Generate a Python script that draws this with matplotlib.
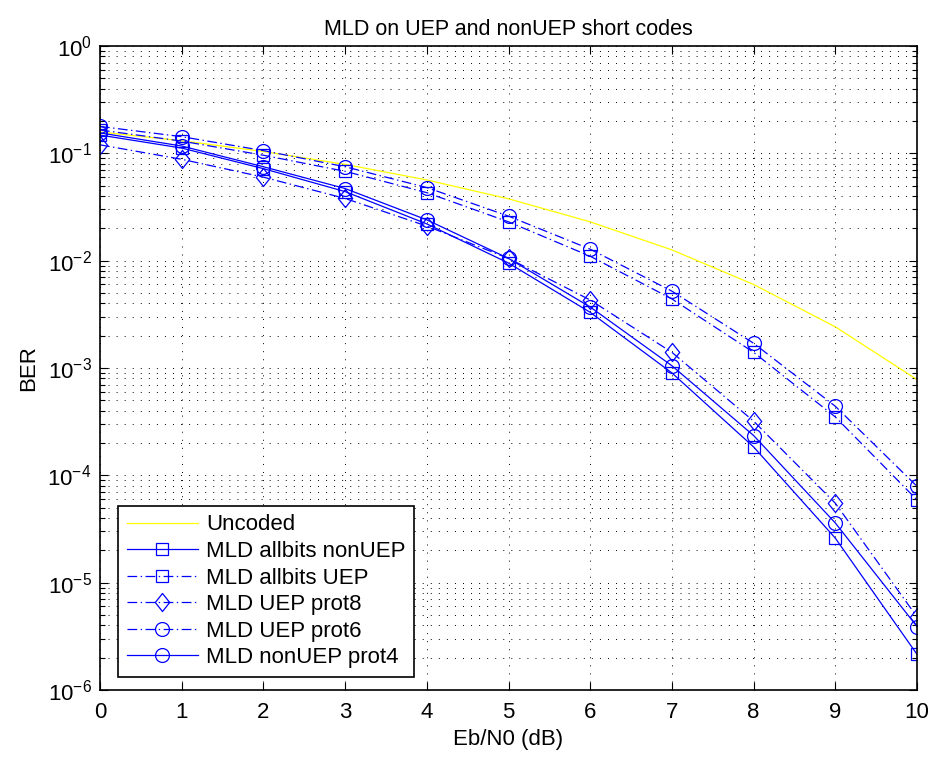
import numpy as np
import matplotlib
matplotlib.use('Agg')
import matplotlib.pyplot as plt
from matplotlib.path import Path
from matplotlib.ticker import LogLocator, FixedLocator, LogFormatterMathtext, NullFormatter

plt.rcParams['font.family'] = ['Liberation Sans', 'DejaVu Sans']
plt.rcParams['mathtext.fontset'] = 'custom'
plt.rcParams['mathtext.rm'] = 'Liberation Sans'
plt.rcParams['lines.scale_dashes'] = False

ebn0 = [0, 1, 2, 3, 4, 5, 6, 7, 8, 9, 10]

uncoded = [0.158, 0.131, 0.104, 0.0789, 0.0565, 0.0377, 0.0230, 0.0126, 0.0060, 0.00242, 0.00078]
allbits_nonuep = [0.148, 0.112, 0.072, 0.044, 0.022, 0.0095, 0.0033, 0.0009, 1.84e-4, 2.6e-5, 2.15e-6]
allbits_uep = [0.165, 0.13, 0.096, 0.068, 0.043, 0.023, 0.011, 0.0044, 0.0014, 3.5e-4, 5.9e-5]
uep_prot8 = [0.12, 0.088, 0.06, 0.038, 0.021, 0.0105, 0.0043, 0.0014, 3.2e-4, 5.5e-5, 4.8e-6]
uep_prot6 = [0.178, 0.143, 0.106, 0.075, 0.048, 0.026, 0.0128, 0.0052, 0.0017, 4.4e-4, 7.9e-5]
nonuep_prot4 = [0.155, 0.117, 0.075, 0.047, 0.024, 0.0105, 0.0037, 0.00105, 2.35e-4, 3.6e-5, 3.9e-6]

labels = ['Uncoded', 'MLD allbits nonUEP', 'MLD allbits UEP', 'MLD UEP prot8',
          'MLD UEP prot6', 'MLD nonUEP prot4']

fs = 16

fig = plt.figure(figsize=(9.33, 7.58), dpi=100)
ax = fig.add_axes([100 / 933, 68 / 758, 817 / 933, 644 / 758])

dashdot = (0, (7, 2.5, 1, 2.5))
blue = (0, 0, 1)
lw = 0.9
# matlab style diamond, a bit taller than wide
diamond = Path([(0, 1), (0.8, 0), (0, -1), (-0.8, 0), (0, 1)],
               [Path.MOVETO, Path.LINETO, Path.LINETO, Path.LINETO, Path.CLOSEPOLY])

mk = dict(mfc='none', mec=blue, mew=lw)
ax.semilogy(ebn0, uncoded, '-', color=(1, 1, 0), lw=lw, label=labels[0])
ax.semilogy(ebn0, allbits_nonuep, '-', color=blue, lw=lw, marker='s', ms=8.9, label=labels[1], **mk)
ax.semilogy(ebn0, allbits_uep, color=blue, ls=dashdot, lw=lw, marker='s', ms=8.9, label=labels[2], **mk)
ax.semilogy(ebn0, uep_prot8, color=blue, ls=dashdot, lw=lw, marker=diamond, ms=13, label=labels[3], **mk)
ax.semilogy(ebn0, uep_prot6, color=blue, ls=dashdot, lw=lw, marker='o', ms=10, label=labels[4], **mk)
ax.semilogy(ebn0, nonuep_prot4, '-', color=blue, lw=lw, marker='o', ms=10, label=labels[5], **mk)

ax.set_xlim(0, 10)
ax.set_ylim(1e-6, 1)
ax.xaxis.set_major_locator(FixedLocator(range(0, 11)))
ax.yaxis.set_major_locator(FixedLocator([10.0 ** k for k in range(-6, 1)]))
ax.yaxis.set_minor_locator(LogLocator(base=10, subs=np.arange(2, 10), numticks=10))
ax.yaxis.set_major_formatter(LogFormatterMathtext())
ax.yaxis.set_minor_formatter(NullFormatter())

ax.tick_params(which='both', direction='in', top=True, right=True, labelsize=fs, width=0.8)
ax.tick_params(which='major', length=6)
ax.tick_params(axis='x', which='major', pad=9)
ax.tick_params(axis='y', which='major', pad=6)
ax.tick_params(which='minor', length=3.5)

dots = (0, (0.7, 5.1))
ax.grid(True, which='major', ls=dots, color='k', lw=0.7)
ax.grid(True, which='minor', axis='y', ls=dots, color='k', lw=0.7)

for s in ax.spines.values():
    s.set_linewidth(1.2)

ax.set_title('MLD on UEP and nonUEP short codes', fontsize=15.5, pad=8)
ax.set_xlabel('Eb/N0 (dB)', fontsize=fs, labelpad=4)
ax.set_ylabel('BER', fontsize=fs, labelpad=6)

leg = ax.legend(loc='lower left', bbox_to_anchor=(0.022, 0.02), borderaxespad=0,
                fontsize=fs, handlelength=3.2, handletextpad=0.36,
                borderpad=0.4, labelspacing=0.25, fancybox=False,
                framealpha=1, edgecolor='k')
leg.get_frame().set_linewidth(1.2)

fig.savefig('out.png', dpi=100)
